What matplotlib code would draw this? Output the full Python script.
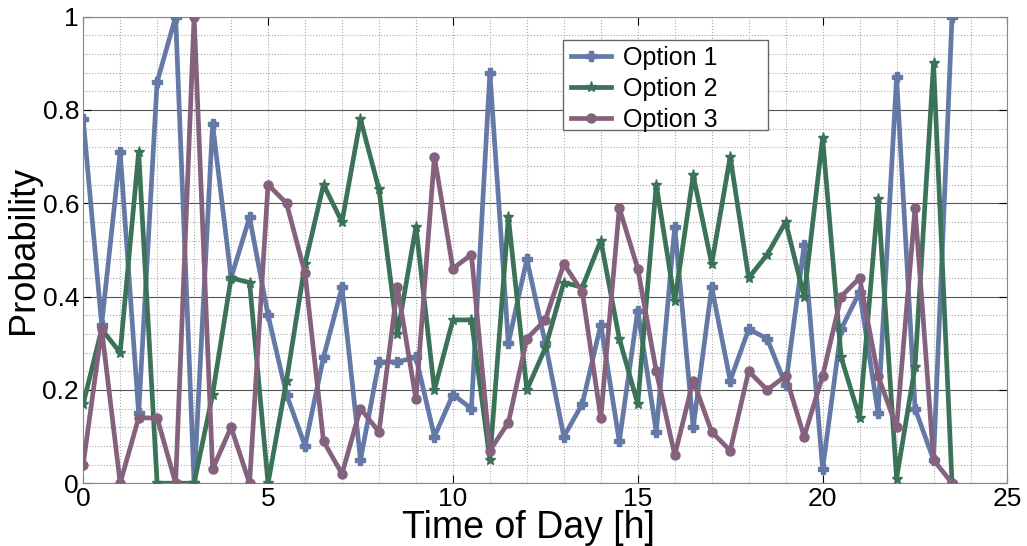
import numpy as np
import matplotlib
matplotlib.use('Agg')
import matplotlib.pyplot as plt
from matplotlib.ticker import MultipleLocator
from matplotlib.patches import Rectangle

plt.rcParams['font.family'] = ['Liberation Sans', 'DejaVu Sans']

# half-hour slots over the day
hours = np.arange(0, 24, 0.5)

option_1 = [0.78, 0.34, 0.71, 0.15, 0.86, 1.00, 0.00, 0.77, 0.44, 0.57,
            0.36, 0.19, 0.08, 0.27, 0.42, 0.05, 0.26, 0.26, 0.27, 0.10,
            0.19, 0.16, 0.88, 0.30, 0.48, 0.30, 0.10, 0.17, 0.34, 0.09,
            0.37, 0.11, 0.55, 0.12, 0.42, 0.22, 0.33, 0.31, 0.21, 0.51,
            0.03, 0.33, 0.41, 0.15, 0.87, 0.16, 0.05, 1.00]
option_2 = [0.17, 0.33, 0.28, 0.71, 0.00, 0.00, 0.00, 0.19, 0.44, 0.43,
            0.00, 0.22, 0.47, 0.64, 0.56, 0.78, 0.63, 0.32, 0.55, 0.20,
            0.35, 0.35, 0.05, 0.57, 0.20, 0.29, 0.43, 0.42, 0.52, 0.31,
            0.17, 0.64, 0.39, 0.66, 0.47, 0.70, 0.44, 0.49, 0.56, 0.40,
            0.74, 0.27, 0.14, 0.61, 0.01, 0.25, 0.90, 0.00]
option_3 = [0.04, 0.33, 0.00, 0.14, 0.14, 0.00, 1.00, 0.03, 0.12, 0.00,
            0.64, 0.60, 0.45, 0.09, 0.02, 0.16, 0.11, 0.42, 0.18, 0.70,
            0.46, 0.49, 0.07, 0.13, 0.31, 0.35, 0.47, 0.41, 0.14, 0.59,
            0.46, 0.24, 0.06, 0.22, 0.11, 0.07, 0.24, 0.20, 0.23, 0.10,
            0.23, 0.40, 0.44, 0.23, 0.12, 0.59, 0.05, 0.00]

fig = plt.figure(figsize=(10.27, 5.46), dpi=100)
ax = fig.add_axes([0.081, 0.115, 0.9, 0.8545])

ax.plot(hours, option_1, color='#6479a6', lw=3.4, marker='P', ms=7, label='Option 1', zorder=3)
ax.plot(hours, option_2, color='#3b7358', lw=3.4, marker='*', ms=8, label='Option 2', zorder=3)
ax.plot(hours, option_3, color='#84617d', lw=3.4, marker='o', ms=6.5, label='Option 3', zorder=3)

ax.set_xlim(0, 25)
ax.set_ylim(0, 1)
ax.xaxis.set_major_locator(MultipleLocator(5))
ax.xaxis.set_minor_locator(MultipleLocator(1))
ax.yaxis.set_minor_locator(MultipleLocator(0.04))
ax.set_yticks([0, 0.2, 0.4, 0.6, 0.8, 1])
ax.set_yticklabels(['0', '0.2', '0.4', '0.6', '0.8', '1'])

ax.grid(axis='y', which='major', color='#555555', lw=0.8, ls='-')
ax.grid(axis='x', which='major', color='#aaaaaa', lw=0.8, ls=':')
ax.grid(which='minor', color='#aaaaaa', lw=0.8, ls=':')
ax.set_axisbelow(True)

ax.tick_params(which='both', direction='in', top=True, right=True, labelsize=19, pad=3)
ax.tick_params(which='minor', length=0)
ax.tick_params(which='major', length=6)
for sp in ax.spines.values():
    sp.set_color('#888888')

ax.set_xlabel('Time of Day [h]', fontsize=27, labelpad=-1, x=0.482)
ax.set_ylabel('Probability', fontsize=26, labelpad=1)

# wide white box behind the legend entries
ax.add_patch(Rectangle((0.519, 0.757), 0.222, 0.193, transform=ax.transAxes,
                       facecolor='white', edgecolor='#666666', lw=1.0, zorder=4))
leg = ax.legend(loc='upper left', bbox_to_anchor=(0.521, 0.95), frameon=False,
                fontsize=18, borderaxespad=0, borderpad=0.25,
                handlelength=1.6, labelspacing=0.28, handletextpad=0.5)
leg.set_zorder(5)

fig.savefig('out.png', dpi=100)
